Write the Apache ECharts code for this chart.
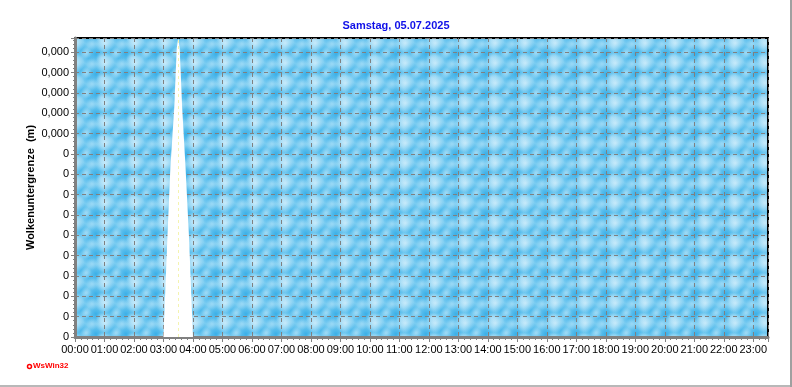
<!DOCTYPE html>
<html>
<head>
<meta charset="utf-8">
<script src="https://cdn.jsdelivr.net/npm/echarts@6/dist/echarts.min.js"></script>
<style>
html,body{margin:0;padding:0;background:#fff;}
#c{width:792px;height:387px;}
</style>
</head>
<body>
<div id="c"></div>
<script>
// ---- data ----
var titleText = 'Samstag, 05.07.2025';
var yAxisName = 'Wolkenuntergrenze  (m)';
var hourLabels = ['00:00','01:00','02:00','03:00','04:00','05:00','06:00','07:00','08:00','09:00','10:00','11:00',
                  '12:00','13:00','14:00','15:00','16:00','17:00','18:00','19:00','20:00','21:00','22:00','23:00'];
var yTickLabels = ['0','0','0','0','0','0','0','0','0','0','0,000','0,000','0,000','0,000','0,000'];
// minutes after midnight
var gapTimes  = [180, 188, 194, 202, 207, 210, 213, 218, 225, 232, 240];
var gapValues = [0,   4.9, 8.3, 11.3, 14.2, 14.7, 14.2, 11.3, 8.3, 4.9, 0];
var markTime = 210;

// ---- texture tile for plot background ----
function makeTile() {
  var w = 30, h = 20;
  var cv = document.createElement('canvas');
  cv.width = w; cv.height = h;
  var ctx = cv.getContext('2d');
  ctx.fillStyle = '#7accf1';
  ctx.fillRect(0, 0, w, h);
  var blobs = [
    [6, 14, 10, 'rgba(38,166,228,0.75)'],
    [21, 10, 8, 'rgba(44,170,230,0.65)'],
    [28, 18, 6, 'rgba(50,172,232,0.5)'],
    [15, 3, 10, 'rgba(225,244,253,0.75)'],
    [12, 18, 6, 'rgba(200,234,250,0.55)'],
    [26, 13, 6, 'rgba(205,237,251,0.55)'],
    [2, 4, 6, 'rgba(185,228,249,0.5)']
  ];
  blobs.forEach(function (b) {
    for (var dx = -w; dx <= w; dx += w) {
      for (var dy = -h; dy <= h; dy += h) {
        var cx = b[0] + dx, cy = b[1] + dy;
        var g = ctx.createRadialGradient(cx, cy, 0, cx, cy, b[2]);
        g.addColorStop(0, b[3]);
        g.addColorStop(1, b[3].replace(/[\d.]+\)$/, '0)'));
        ctx.fillStyle = g;
        ctx.fillRect(cx - b[2], cy - b[2], b[2] * 2, b[2] * 2);
      }
    }
  });
  return cv;
}

var font = 'Liberation Sans, Arial, sans-serif';
var chart = echarts.init(document.getElementById('c'), null, {renderer: 'canvas'});
var xMin = 0, xMax = 1410, yMin = 0, yMax = 14.7;

chart.setOption({
  animation: false,
  backgroundColor: '#fff',
  title: {
    text: titleText, left: 'center', top: 15,
    textStyle: {color: '#1010e8', fontSize: 11, fontWeight: 'bold', fontFamily: font}
  },
  grid: {
    left: 75, right: 24, top: 38, bottom: 50,
    show: true,
    backgroundColor: {image: makeTile(), repeat: 'repeat'},
    borderColor: '#000', borderWidth: 2
  },
  xAxis: [{
    type: 'value', min: xMin, max: xMax, interval: 60,
    axisLine: {show: true, onZero: false, lineStyle: {color: '#808080', width: 3}},
    axisTick: {show: true, length: 5, lineStyle: {color: '#808080'}},
    minorTick: {show: true, splitNumber: 5, length: 3, lineStyle: {color: '#808080'}},
    axisLabel: {
      color: '#000', fontSize: 11, fontFamily: font, margin: 7,
      formatter: function (v) { return (v % 60 === 0 && hourLabels[v / 60]) ? hourLabels[v / 60] : ''; }
    },
    splitLine: {show: true, lineStyle: {color: '#808080', type: [4, 3], width: 1}}
  }, {
    type: 'value', min: xMin, max: xMax, interval: 60, position: 'top',
    axisLine: {show: false},
    axisTick: {show: true, inside: true, length: 3, lineStyle: {color: '#808080'}},
    axisLabel: {show: false},
    splitLine: {show: false}
  }],
  yAxis: [{
    type: 'value', min: yMin, max: yMax, interval: 1,
    name: yAxisName, nameLocation: 'middle', nameGap: 39, nameMoveOverlap: false,
    nameTextStyle: {color: '#000', fontSize: 11, fontWeight: 'bold', fontFamily: font},
    axisLine: {show: true, onZero: false, lineStyle: {color: '#808080', width: 3}},
    axisTick: {show: true, length: 4, lineStyle: {color: '#808080'}},
    minorTick: {show: true, splitNumber: 5, length: 2, lineStyle: {color: '#808080'}},
    axisLabel: {
      color: '#000', fontSize: 11, fontFamily: font, margin: 6,
      formatter: function (v) {
        var i = Math.round(v);
        return (Math.abs(v - i) < 1e-6 && yTickLabels[i] !== undefined) ? yTickLabels[i] : '';
      }
    },
    splitLine: {show: true, lineStyle: {color: '#808080', type: [4, 3], width: 1}}
  }],
  series: [{
    type: 'line',
    data: gapTimes.map(function (t, i) { return [t, gapValues[i]]; }),
    symbol: 'none',
    lineStyle: {width: 0, opacity: 0},
    areaStyle: {color: '#ffffff', opacity: 1},
    markLine: {
      silent: true, symbol: 'none', label: {show: false},
      lineStyle: {color: '#f4f4b0', type: [3, 3], width: 1},
      data: [{xAxis: markTime}]
    }
  }],
  graphic: [
    {type: 'line', shape: {x1: 791, y1: 0, x2: 791, y2: 387}, style: {stroke: '#a0a0a0', lineWidth: 2}},
    {type: 'line', shape: {x1: 0, y1: 386, x2: 792, y2: 386}, style: {stroke: '#a0a0a0', lineWidth: 1.5}},
    {type: 'circle', shape: {cx: 29.5, cy: 366.5, r: 2}, style: {fill: 'none', stroke: '#ff0000', lineWidth: 1.5}},
    {type: 'text', left: 33, top: 362, style: {text: 'WsWin32', fill: '#ff0000', font: 'bold 8px ' + font}}
  ]
});
</script>
</body>
</html>
